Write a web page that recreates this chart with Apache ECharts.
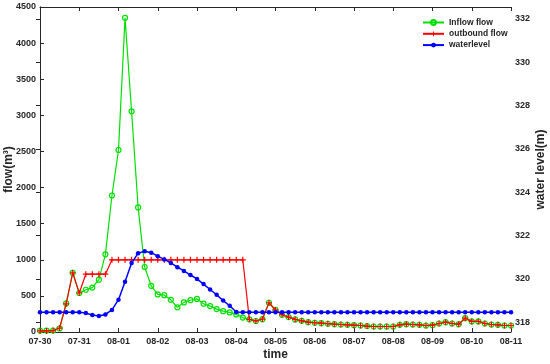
<!DOCTYPE html>
<html>
<head>
<meta charset="utf-8">
<script src="https://cdn.jsdelivr.net/npm/echarts@6/dist/echarts.min.js"></script>
<style>html,body{margin:0;padding:0;background:#fff}#c{width:550px;height:364px}</style>
</head>
<body>
<div id="c"></div>
<script>
// tick labels (one per day, 6 samples per day = 4h step)
const tickLabels = ['07-30','07-31','08-01','08-02','08-03','08-04','08-05','08-06','08-07','08-08','08-09','08-10','08-11'];
const stepsPerDay = 6;
const levelTicks = [318,320,322,324,326,328,330,332];

const inflow = [20,20,20,50,395,820,540,585,615,725,1075,1890,2520,4350,3055,1725,900,640,520,510,445,342,410,440,458,392,359,317,289,271,243,200,175,152,178,405,305,239,206,174,155,136,128,122,114,108,104,100,94,90,82,76,76,76,76,100,108,104,100,90,94,118,136,118,108,192,146,146,118,104,100,90,90];
const outflow = [15,15,20,55,390,820,540,800,800,800,800,1000,1000,1000,1000,1000,1000,1000,1000,1000,1000,1000,1000,1000,1000,1000,1000,1000,1000,1000,1000,1000,175,152,178,405,305,239,206,174,155,136,128,122,114,108,104,100,94,90,82,76,76,76,76,100,108,104,100,90,94,118,136,118,108,192,146,146,118,104,100,90,90];
const waterlevel = [318.46,318.46,318.46,318.46,318.46,318.46,318.46,318.43,318.33,318.29,318.36,318.57,319.04,319.87,320.73,321.19,321.28,321.21,321.05,320.90,320.74,320.54,320.37,320.18,320.00,319.76,319.51,319.27,319.00,318.76,318.47,318.46,318.46,318.46,318.46,318.46,318.46,318.46,318.46,318.46,318.46,318.46,318.46,318.46,318.46,318.46,318.46,318.46,318.46,318.46,318.46,318.46,318.46,318.46,318.46,318.46,318.46,318.46,318.46,318.46,318.46,318.46,318.46,318.46,318.46,318.46,318.46,318.46,318.46,318.46,318.46,318.46,318.46];

const pairs = arr => arr.map((v, i) => [i, v]);
const axisCol = '#262626';
const font = 'Liberation Sans, Arial, sans-serif';
const plusPath = 'path://M4,0h2v4h4v2h-4v4h-2v-4h-4v-2h4z';

const chart = echarts.init(document.getElementById('c'), null, {renderer: 'canvas'});
chart.setOption({
  animation: false,
  backgroundColor: '#fff',
  textStyle: {fontFamily: font, fontWeight: 'bold', color: axisCol},
  grid: {left: 40, right: 39, top: 7, bottom: 32, containLabel: false, outerBoundsMode: 'none'},
  legend: {
    orient: 'vertical', left: 417, top: 12,
    itemWidth: 21, itemHeight: 6, itemGap: 0.3,
    textStyle: {fontFamily: font, fontWeight: 'bold', fontSize: 8.5, color: axisCol, lineHeight: 11},
    data: ['Inflow flow', 'outbound flow', 'waterlevel']
  },
  xAxis: [{
    type: 'value', min: 0, max: (tickLabels.length - 1) * stepsPerDay, interval: stepsPerDay,
    position: 'bottom',
    name: 'time', nameLocation: 'middle', nameGap: 17, nameMoveOverlap: false,
    nameTextStyle: {fontFamily: font, fontWeight: 'bold', fontSize: 12, color: axisCol},
    axisLine: {lineStyle: {color: axisCol, width: 1}},
    axisTick: {inside: true, length: 4, lineStyle: {color: axisCol}},
    axisLabel: {fontFamily: font, fontWeight: 'bold', fontSize: 9, color: axisCol, margin: 5,
      formatter: v => tickLabels[Math.round(v / stepsPerDay)]},
    splitLine: {show: false}
  }, {
    type: 'value', min: 0, max: (tickLabels.length - 1) * stepsPerDay, interval: stepsPerDay,
    position: 'top',
    axisLine: {onZero: false, lineStyle: {color: axisCol, width: 1}},
    axisTick: {inside: true, length: 4, lineStyle: {color: axisCol}},
    axisLabel: {show: false},
    splitLine: {show: false}
  }],
  yAxis: [{
    type: 'value', min: 0, max: 4500, interval: 500, position: 'left',
    name: 'flow(m³)', nameLocation: 'middle', nameGap: 25, nameMoveOverlap: false,
    nameTextStyle: {fontFamily: font, fontWeight: 'bold', fontSize: 12, color: axisCol},
    axisLine: {show: true, lineStyle: {color: axisCol, width: 1}},
    axisTick: {show: true, inside: true, length: 4, lineStyle: {color: axisCol}},
    axisLabel: {fontFamily: font, fontWeight: 'bold', fontSize: 9, color: axisCol, margin: 4,
      formatter: v => String(v)},
    splitLine: {show: false}
  }, {
    type: 'value', min: 317.55, max: 332.55, position: 'right',
    name: 'water level(m)', nameLocation: 'middle', nameGap: 24, nameRotate: 90, nameMoveOverlap: false,
    nameTextStyle: {fontFamily: font, fontWeight: 'bold', fontSize: 12, color: axisCol},
    axisLine: {show: true, lineStyle: {color: axisCol, width: 1}},
    axisTick: {show: true, inside: true, length: 4, lineStyle: {color: axisCol}, customValues: levelTicks},
    axisLabel: {fontFamily: font, fontWeight: 'bold', fontSize: 9, color: axisCol, margin: 4, customValues: levelTicks,
      formatter: v => String(Math.round(v))},
    splitLine: {show: false}
  }],
  series: [{
    name: 'Inflow flow', type: 'line', xAxisIndex: 0, yAxisIndex: 0,
    data: pairs(inflow),
    symbol: 'circle', symbolSize: 5,
    lineStyle: {color: '#00e000', width: 1.2},
    itemStyle: {color: 'rgba(255,255,255,0)', borderColor: '#00e000', borderWidth: 1.2},
    z: 2
  }, {
    name: 'outbound flow', type: 'line', xAxisIndex: 0, yAxisIndex: 0,
    data: pairs(outflow),
    symbol: plusPath, symbolSize: 6,
    lineStyle: {color: '#ff0000', width: 1.2},
    itemStyle: {color: '#ff0000'},
    z: 3
  }, {
    name: 'waterlevel', type: 'line', xAxisIndex: 0, yAxisIndex: 1,
    data: pairs(waterlevel),
    symbol: 'circle', symbolSize: 4.5,
    lineStyle: {color: '#0000ff', width: 1.5},
    itemStyle: {color: '#0000ff'},
    z: 4
  }]
});
</script>
</body>
</html>
